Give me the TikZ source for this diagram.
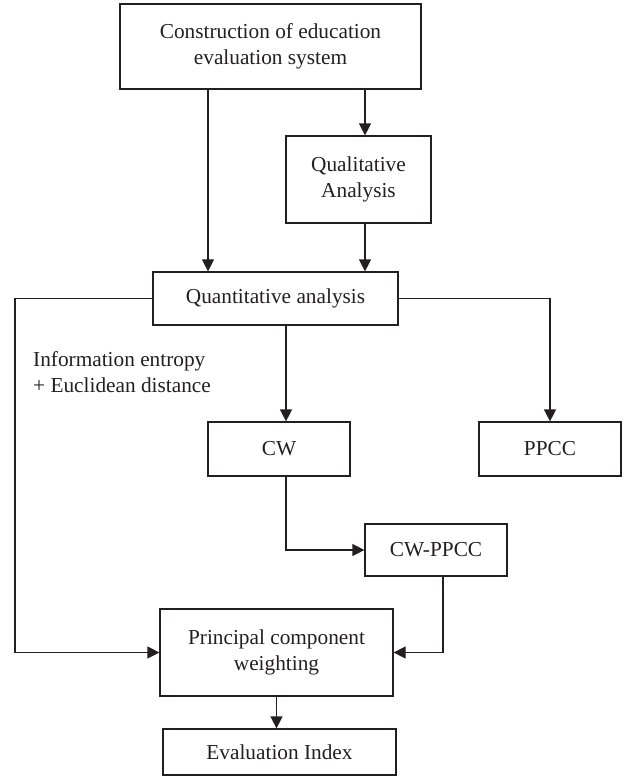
\documentclass[tikz,border=0pt]{standalone}
\usepackage{fontspec}
\setmainfont{Liberation Serif}
\usetikzlibrary{arrows.meta}
\definecolor{ink}{HTML}{231F20}
\begin{document}
\begin{tikzpicture}[x=1pt,y=-1pt,
    box/.style={draw=ink,line width=1.2pt,align=center,inner sep=0pt,text=ink,font=\fontsize{21.3}{26}\selectfont},
    arr/.style={draw=ink,line width=1.2pt,-{Triangle[length=12pt,width=12pt]}}]
    \useasboundingbox (0,0) rectangle (627,776);
    % Boxes
    \node[box,minimum width=301pt,minimum height=85pt] (top) at (270.5,46.5) {Construction of education\\evaluation system};
    \node[box,minimum width=145pt,minimum height=87pt] (qual) at (358.5,179.5) {Qualitative\\Analysis};
    \node[box,minimum width=245pt,minimum height=53pt] (quant) at (275.5,298.5) {Quantitative analysis};
    \node[box,minimum width=142pt,minimum height=54pt] (cw) at (279,449) {CW};
    \node[box,minimum width=142pt,minimum height=54pt] (ppcc) at (550,449) {PPCC};
    \node[box,minimum width=142pt,minimum height=52pt] (cwppcc) at (436,550) {CW-PPCC};
    \node[box,minimum width=233pt,minimum height=87pt] (pcw) at (276.5,652.5) {Principal component\\weighting};
    \node[box,minimum width=233pt,minimum height=46pt] (eval) at (279.5,752) {Evaluation Index};
    \node[anchor=west,align=left,inner sep=0pt,text=ink,font=\fontsize{21.3}{26}\selectfont] (lbl) at (33,372) {Information entropy\\+ Euclidean distance};
    % Connector columns
    \coordinate (xa) at (208,0); \coordinate (xb) at (365,0);
    \coordinate (xc) at (286,0); \coordinate (xd) at (443,0);
    \coordinate (xl) at (15,0);
    % Connectors
    \draw[arr] (top.south -| xa)--(quant.north -| xa);
    \draw[arr] (top.south -| xb)--(qual.north -| xb);
    \draw[arr] (qual.south -| xb)--(quant.north -| xb);
    \draw[arr] (quant.west)--(quant.west -| xl) |- (pcw.west);
    \draw[arr] (quant.east) -| (ppcc.north);
    \draw[arr] (quant.south -| xc)--(cw.north -| xc);
    \draw[arr] (cw.south -| xc) |- (cwppcc.west);
    \draw[arr] (cwppcc.south -| xd) |- (pcw.east);
    \draw[arr] (pcw.south)--(pcw.south |- eval.north);
\end{tikzpicture}
\end{document}
